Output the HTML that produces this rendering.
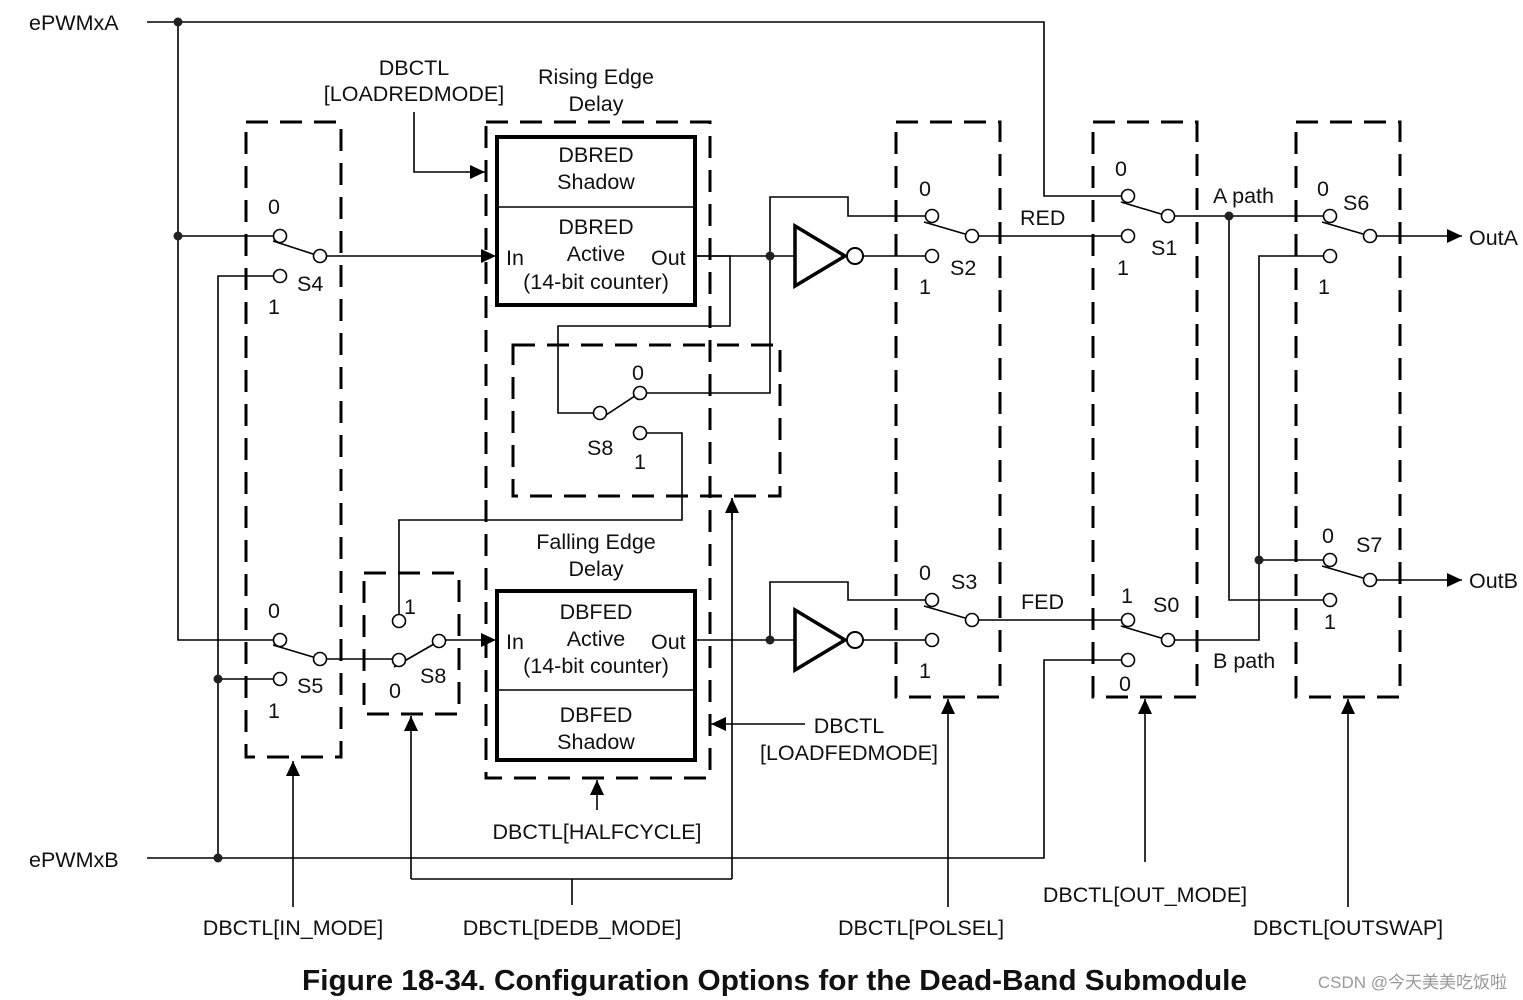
<!DOCTYPE html>
<html><head><meta charset="utf-8"><style>
html,body{margin:0;padding:0;background:#fff}
svg{display:block}
text{font-family:"Liberation Sans",Arial,sans-serif;font-size:21.5px;fill:#111}
</style></head><body>
<svg width="1523" height="1000" viewBox="0 0 1523 1000" xmlns="http://www.w3.org/2000/svg">
<defs>
<marker id="ar2" markerWidth="16" markerHeight="16" refX="15" refY="7" orient="auto" markerUnits="userSpaceOnUse">
<path d="M0,0 L15,7 L0,14 z" fill="#000"/></marker>
</defs>
<g fill="none" stroke="#000" stroke-width="1.6">
<path d="M147,22 H1044 V196 H1121"/>
<path d="M147,858 H1044 V660 H1121"/>
<path d="M178,22 V640 H273"/>
<path d="M178,236 H273"/>
<path d="M273,276 H218 V858"/>
<path d="M218,679 H273"/>
<path d="M273,241 L313,254"/>
<path d="M327,256 H496" marker-end="url(#ar2)"/>
<path d="M273,645 L313,657"/>
<path d="M327,659 H392"/>
<path d="M394,667 L434,644"/>
<path d="M446,640 H496" marker-end="url(#ar2)"/>
<path d="M697,256 H730 V326 H558 V413 H593"/>
<path d="M603,417 L644,390"/>
<path d="M647,393 H770 V256"/>
<path d="M647,433 H682 V520 H399 V614"/>
<path d="M697,256 H795"/><path d="M770,256 V197 H848 V216 H925"/>
<path d="M862,256 H925"/>
<path d="M697,640 H795"/><path d="M770,640 V582 H848 V600 H925"/>
<path d="M862,640 H925"/>
<path d="M924,222 L965,234"/><path d="M979,236 H1121"/>
<path d="M924,606 L965,618"/><path d="M979,620 H1121"/>
<path d="M1121,202 L1161,214"/><path d="M1175,216 H1323"/>
<path d="M1121,626 L1161,638"/><path d="M1175,640 H1259 V256 H1323"/>
<path d="M1259,560 H1323"/>
<path d="M1229,216 V600 H1323"/>
<path d="M1322,222 L1363,234"/><path d="M1377,236 H1462" marker-end="url(#ar2)"/>
<path d="M1322,566 L1363,578"/><path d="M1377,580 H1462" marker-end="url(#ar2)"/>
<path d="M293,907 V761" marker-end="url(#ar2)"/>
<path d="M572,905 V879 M411,879 H732 M411,879 V716 M732,879 V498" />
<path d="M411,730 V716" marker-end="url(#ar2)"/>
<path d="M732,520 V498" marker-end="url(#ar2)"/>
<path d="M948,907 V699" marker-end="url(#ar2)"/>
<path d="M1145,862 V699" marker-end="url(#ar2)"/>
<path d="M1348,907 V699" marker-end="url(#ar2)"/>
<path d="M597,810 V780" marker-end="url(#ar2)"/>
<path d="M805,724 H711" marker-end="url(#ar2)"/>
<path d="M414,112 V172 H485" marker-end="url(#ar2)"/>
</g>
<g fill="none" stroke="#000" stroke-width="3" stroke-dasharray="22,12">
<rect x="246" y="122" width="95" height="635"/>
<rect x="364" y="573" width="95" height="141"/>
<rect x="486" y="122" width="224" height="656"/>
<rect x="513" y="345" width="267" height="151"/>
<rect x="896" y="122" width="104" height="575"/>
<rect x="1093" y="122" width="104" height="575"/>
<rect x="1296" y="122" width="104" height="575"/>
</g>
<g fill="none" stroke="#000" stroke-width="4">
<rect x="497" y="137" width="198" height="168"/>
<rect x="497" y="591" width="198" height="169"/>
</g>
<g stroke="#000" stroke-width="1.6">
<line x1="497" y1="207" x2="695" y2="207"/>
<line x1="497" y1="690" x2="695" y2="690"/>
</g>
<g fill="none" stroke="#000" stroke-width="3.5">
<path d="M795,226 L795,286 L845,256 Z"/>
<path d="M795,610 L795,670 L845,640 Z"/>
</g>
<g fill="#fff" stroke="#000" stroke-width="2">
<circle cx="855" cy="256" r="8"/><circle cx="855" cy="640" r="8"/>
</g>
<g fill="#222">
<circle cx="178" cy="22" r="4.5"/><circle cx="178" cy="236" r="4.5"/>
<circle cx="218" cy="858" r="4.5"/><circle cx="218" cy="679" r="4.5"/>
<circle cx="770" cy="256" r="4.5"/><circle cx="770" cy="640" r="4.5"/>
<circle cx="1229" cy="216" r="4.5"/><circle cx="1259" cy="560" r="4.5"/>
</g>
<g fill="#fff" stroke="#000" stroke-width="1.6">
<circle cx="280" cy="236" r="6.5"/><circle cx="320" cy="256" r="6.5"/><circle cx="280" cy="276" r="6.5"/>
<circle cx="280" cy="640" r="6.5"/><circle cx="320" cy="659" r="6.5"/><circle cx="280" cy="679" r="6.5"/>
<circle cx="399" cy="621" r="6.5"/><circle cx="399" cy="660" r="6.5"/><circle cx="439" cy="641" r="6.5"/>
<circle cx="600" cy="413" r="6.5"/><circle cx="640" cy="393" r="6.5"/><circle cx="640" cy="433" r="6.5"/>
<circle cx="932" cy="216" r="6.5"/><circle cx="972" cy="236" r="6.5"/><circle cx="932" cy="256" r="6.5"/>
<circle cx="932" cy="600" r="6.5"/><circle cx="972" cy="620" r="6.5"/><circle cx="932" cy="640" r="6.5"/>
<circle cx="1128" cy="196" r="6.5"/><circle cx="1168" cy="216" r="6.5"/><circle cx="1128" cy="236" r="6.5"/>
<circle cx="1128" cy="620" r="6.5"/><circle cx="1168" cy="640" r="6.5"/><circle cx="1128" cy="660" r="6.5"/>
<circle cx="1330" cy="216" r="6.5"/><circle cx="1370" cy="236" r="6.5"/><circle cx="1330" cy="256" r="6.5"/>
<circle cx="1330" cy="560" r="6.5"/><circle cx="1370" cy="580" r="6.5"/><circle cx="1330" cy="600" r="6.5"/>
</g>
<text x="29" y="30">ePWMxA</text>
<text x="29" y="867">ePWMxB</text>
<text x="414" y="75" text-anchor="middle">DBCTL</text>
<text x="414" y="101" text-anchor="middle">[LOADREDMODE]</text>
<text x="596" y="84" text-anchor="middle">Rising Edge</text>
<text x="596" y="111" text-anchor="middle">Delay</text>
<text x="596" y="162" text-anchor="middle">DBRED</text>
<text x="596" y="189" text-anchor="middle">Shadow</text>
<text x="596" y="234" text-anchor="middle">DBRED</text>
<text x="596" y="261" text-anchor="middle">Active</text>
<text x="506" y="265">In</text><text x="651" y="265">Out</text>
<text x="596" y="289" text-anchor="middle">(14-bit counter)</text>
<text x="596" y="549" text-anchor="middle">Falling Edge</text>
<text x="596" y="576" text-anchor="middle">Delay</text>
<text x="596" y="619" text-anchor="middle">DBFED</text>
<text x="596" y="646" text-anchor="middle">Active</text>
<text x="506" y="649">In</text><text x="651" y="649">Out</text>
<text x="596" y="673" text-anchor="middle">(14-bit counter)</text>
<text x="596" y="722" text-anchor="middle">DBFED</text>
<text x="596" y="749" text-anchor="middle">Shadow</text>
<text x="268" y="214">0</text><text x="297" y="291">S4</text><text x="268" y="314">1</text>
<text x="268" y="618">0</text><text x="297" y="693">S5</text><text x="268" y="718">1</text>
<text x="404" y="614">1</text><text x="389" y="698">0</text><text x="420" y="683">S8</text>
<text x="632" y="380">0</text><text x="587" y="455">S8</text><text x="634" y="469">1</text>
<text x="919" y="196">0</text><text x="950" y="275">S2</text><text x="919" y="294">1</text>
<text x="919" y="580">0</text><text x="951" y="589">S3</text><text x="919" y="678">1</text>
<text x="1020" y="225">RED</text><text x="1021" y="609">FED</text>
<text x="1115" y="176">0</text><text x="1151" y="255">S1</text><text x="1117" y="275">1</text>
<text x="1121" y="603">1</text><text x="1153" y="612">S0</text><text x="1119" y="691">0</text>
<text x="1213" y="203">A path</text><text x="1213" y="668">B path</text>
<text x="1317" y="196">0</text><text x="1343" y="210">S6</text><text x="1318" y="294">1</text>
<text x="1322" y="543">0</text><text x="1356" y="552">S7</text><text x="1324" y="629">1</text>
<text x="1469" y="245">OutA</text><text x="1469" y="588">OutB</text>
<text x="849" y="733" text-anchor="middle">DBCTL</text>
<text x="849" y="760" text-anchor="middle">[LOADFEDMODE]</text>
<text x="597" y="839" text-anchor="middle">DBCTL[HALFCYCLE]</text>
<text x="293" y="935" text-anchor="middle">DBCTL[IN_MODE]</text>
<text x="572" y="935" text-anchor="middle">DBCTL[DEDB_MODE]</text>
<text x="921" y="935" text-anchor="middle">DBCTL[POLSEL]</text>
<text x="1145" y="902" text-anchor="middle">DBCTL[OUT_MODE]</text>
<text x="1348" y="935" text-anchor="middle">DBCTL[OUTSWAP]</text>
<text x="302" y="990" textLength="945" lengthAdjust="spacingAndGlyphs" style="font-size:29px;font-weight:bold">Figure 18-34. Configuration Options for the Dead-Band Submodule</text>
<text x="1507" y="988" text-anchor="end" style="font-size:17px;fill:#999;font-family:'Liberation Sans','Noto Sans CJK SC',sans-serif">CSDN @今天美美吃饭啦</text>
</svg>
</body></html>
